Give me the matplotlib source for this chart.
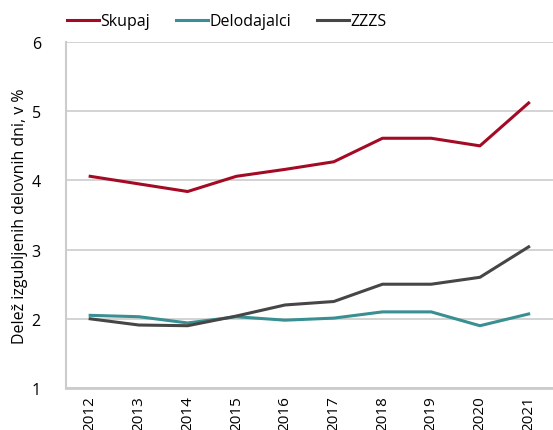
import matplotlib.pyplot as plt

plt.rcParams['font.family'] = ['Open Sans', 'DejaVu Sans']

years = [2012, 2013, 2014, 2015, 2016, 2017, 2018, 2019, 2020, 2021]
skupaj = [4.06, 3.95, 3.84, 4.06, 4.16, 4.27, 4.61, 4.61, 4.50, 5.12]
delodajalci = [2.05, 2.03, 1.94, 2.03, 1.98, 2.01, 2.10, 2.10, 1.90, 2.07]
zzzs = [2.00, 1.91, 1.90, 2.04, 2.20, 2.25, 2.50, 2.50, 2.60, 3.04]

fig = plt.figure(figsize=(5.53, 4.31), dpi=100)
ax = fig.add_axes([0.119, 0.0975, 0.881, 0.8025])

l1, = ax.plot(years, skupaj, color='#a50a25', lw=2.2, label='Skupaj')
l2, = ax.plot(years, delodajalci, color='#3a8f92', lw=2.2, label='Delodajalci')
l3, = ax.plot(years, zzzs, color='#464646', lw=2.2, label='ZZZS')

ax.set_xlim(2011.5, 2021.5)
ax.set_ylim(1, 6)
ax.set_yticks([1, 2, 3, 4, 5, 6])
ax.set_xticks(years)
ax.set_xticklabels([str(y) for y in years], rotation=90, fontsize=11)
ax.tick_params(axis='y', labelsize=11.5, length=0, pad=18)
ax.tick_params(axis='x', length=0, pad=5)
ax.grid(axis='y', color='#cccccc', lw=1.2)
ax.axhline(1, color='#cccccc', lw=2, clip_on=False, zorder=0)
ax.set_axisbelow(True)
for s in ['top', 'right', 'bottom']:
    ax.spines[s].set_visible(False)
ax.spines['left'].set_color('#cccccc')
ax.spines['left'].set_linewidth(1.5)
ax.set_ylabel('Delež izgubljenih delovnih dni, v %', fontsize=11.5, labelpad=3)

fig.legend(handles=[l1, l2, l3], loc='upper left', bbox_to_anchor=(0.095, 1.0),
           ncol=3, frameon=False, fontsize=11.5, handlelength=2.0,
           handletextpad=0.1, columnspacing=1.6)

fig.savefig('out.png', dpi=100)
